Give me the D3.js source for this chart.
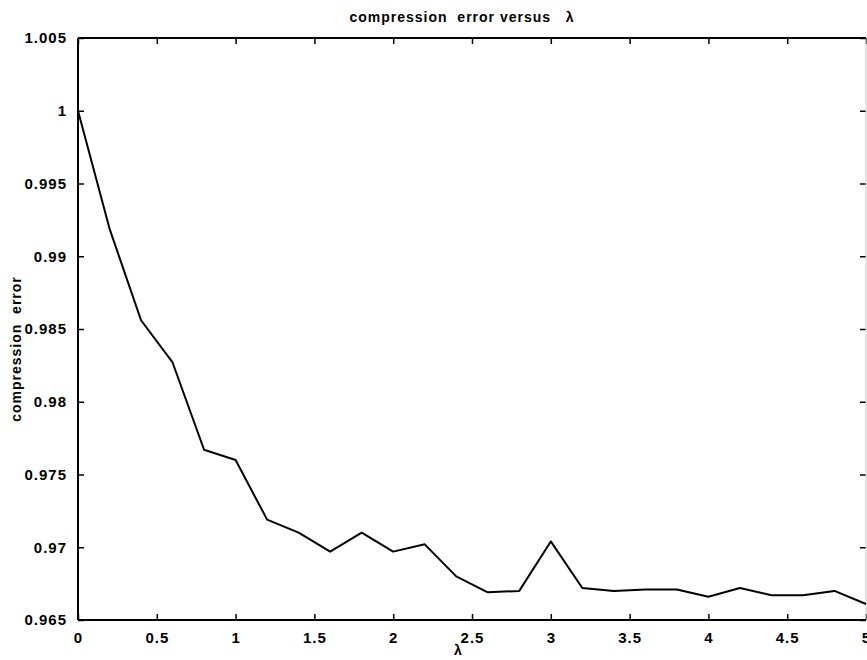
<!DOCTYPE html>
<html>
<head>
<meta charset="utf-8">
<script src="https://cdn.jsdelivr.net/npm/d3@7"></script>
<style>
	body { margin: 0; background: #fff; }
	text { font-family: "Liberation Sans", Arial, sans-serif; font-weight: bold; fill: #000; }
	.axis text { font-size: 15px; letter-spacing: 1px; }
	.axis path { display: none; }
	.axis line { stroke: #000; stroke-width: 1.5; }
</style>
</head>
<body>
<div id="chart"></div>
<script>
// lambda values (x) and compression error
var lambda = [0, 0.2, 0.4, 0.6, 0.8, 1.0, 1.2, 1.4, 1.6, 1.8, 2.0, 2.2, 2.4,
	2.6, 2.8, 3.0, 3.2, 3.4, 3.6, 3.8, 4.0, 4.2, 4.4, 4.6, 4.8, 5.0];
var compError = [1.0, 0.9919, 0.9856, 0.9827, 0.9767, 0.9760, 0.9719, 0.9710,
	0.9697, 0.9710, 0.9697, 0.9702, 0.9680, 0.9669, 0.9670, 0.9704, 0.9672,
	0.9670, 0.9671, 0.9671, 0.9666, 0.9672, 0.9667, 0.9667, 0.9670, 0.9661];

var xTicks = [0, 0.5, 1, 1.5, 2, 2.5, 3, 3.5, 4, 4.5, 5];
var xTickLabels = ["0", "0.5", "1", "1.5", "2", "2.5", "3", "3.5", "4", "4.5", "5"];
var yTicks = [0.965, 0.97, 0.975, 0.98, 0.985, 0.99, 0.995, 1, 1.005];
var yTickLabels = ["0.965", "0.97", "0.975", "0.98", "0.985", "0.99", "0.995", "1", "1.005"];

var titleText = "compression  error versus   \u03bb";
var xLabelText = "\u03bb";
var yLabelText = "compression  error";

var w = 867, h = 660;
var margin = {top: 38, right: 1, bottom: 40, left: 78};
var width = w - margin.left - margin.right;
var height = h - margin.top - margin.bottom;

var xS = d3.scaleLinear().domain([0, 5]).range([0, width]);
var yS = d3.scaleLinear().domain([0.965, 1.005]).range([height, 0]);

var svg = d3.select("#chart").append("svg")
	.attr("width", w)
	.attr("height", h)
  .append("g")
	.attr("transform", "translate(" + margin.left + "," + margin.top + ")");

// inward ticks on all four sides, matlab box style
var xAxis = d3.axisBottom(xS).tickValues(xTicks)
	.tickFormat(function(d, i) { return xTickLabels[i]; })
	.tickSizeInner(-6).tickSizeOuter(0).tickPadding(12);
var yAxis = d3.axisLeft(yS).tickValues(yTicks)
	.tickFormat(function(d, i) { return yTickLabels[i]; })
	.tickSizeInner(-6).tickSizeOuter(0).tickPadding(11);
var xTop = d3.axisTop(xS).tickValues(xTicks).tickFormat("")
	.tickSizeInner(-6).tickSizeOuter(0);
var yRight = d3.axisRight(yS).tickValues(yTicks).tickFormat("")
	.tickSizeInner(-6).tickSizeOuter(0);

svg.append("g").attr("class", "axis").attr("transform", "translate(0," + height + ")").call(xAxis);
svg.append("g").attr("class", "axis").call(yAxis);
svg.append("g").attr("class", "axis").call(xTop);
svg.append("g").attr("class", "axis").attr("transform", "translate(" + width + ",0)").call(yRight);

// frame: right side is faint in the original
svg.append("line").attr("x1", width).attr("x2", width).attr("y1", 0).attr("y2", height)
	.attr("stroke", "#c8c8c8").attr("stroke-width", 1);
svg.append("line").attr("x1", 0).attr("x2", width).attr("y1", 0).attr("y2", 0)
	.attr("stroke", "#000").attr("stroke-width", 2);
svg.append("line").attr("x1", 0).attr("x2", width).attr("y1", height).attr("y2", height)
	.attr("stroke", "#000").attr("stroke-width", 2);
svg.append("line").attr("x1", 0).attr("x2", 0).attr("y1", 0).attr("y2", height)
	.attr("stroke", "#000").attr("stroke-width", 2);

var line = d3.line()
	.x(function(d) { return xS(d.x); })
	.y(function(d) { return yS(d.y); });

var pts = lambda.map(function(d, i) { return {x: d, y: compError[i]}; });

svg.append("path")
	.datum(pts)
	.attr("fill", "none")
	.attr("stroke", "#000")
	.attr("stroke-width", 2)
	.attr("stroke-linejoin", "round")
	.attr("d", line);

// title and axis labels
svg.append("text")
	.attr("x", 384)
	.attr("y", -16)
	.attr("text-anchor", "middle")
	.style("font-size", "14px")
	.style("letter-spacing", "1px")
	.style("white-space", "pre")
	.text(titleText);

svg.append("text")
	.attr("x", 380)
	.attr("y", height + 35)
	.attr("text-anchor", "middle")
	.style("font-size", "14px")
	.text(xLabelText);

svg.append("text")
	.attr("transform", "rotate(-90)")
	.attr("x", -311)
	.attr("y", -57)
	.attr("text-anchor", "middle")
	.style("font-size", "14px")
	.style("letter-spacing", "1px")
	.style("white-space", "pre")
	.text(yLabelText);
</script>
</body>
</html>
